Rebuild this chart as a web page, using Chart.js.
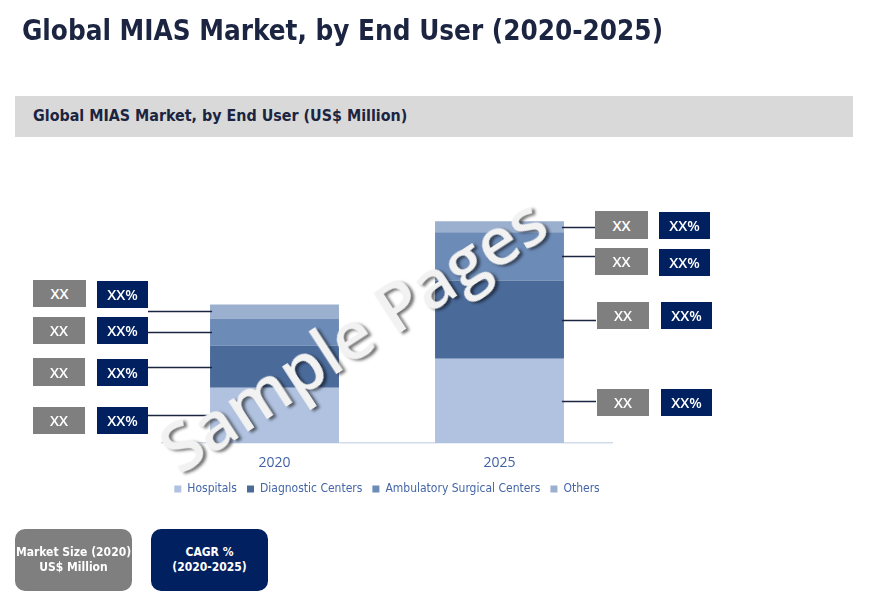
<!DOCTYPE html>
<html>
<head>
<meta charset="utf-8">
<script src="https://cdn.jsdelivr.net/npm/chart.js@4"></script>
<style>
  html, body { margin: 0; padding: 0; background: #ffffff; }
  #wrap { position: relative; width: 873px; height: 597px; overflow: hidden; background: #fff; }
  #chartCanvas { position: absolute; left: 0; top: 0; }
  .title { position: absolute; left: 22px; top: 15px; font-family: "DejaVu Sans Condensed", "DejaVu Sans", sans-serif; font-weight: bold; font-size: 27.6px; color: #1B2440; white-space: nowrap; line-height: 32px; }
  .band { position: absolute; left: 15px; top: 96px; width: 838px; height: 41px; background: #D9D9D9; }
  .band span { position: absolute; left: 18px; top: 10px; font-family: "DejaVu Sans Condensed", "DejaVu Sans", sans-serif; font-weight: bold; font-size: 15.9px; color: #1B2440; white-space: nowrap; line-height: 20px; }
  .bx { position: absolute; color: #fff; font-family: "Open Sans", "Liberation Sans", sans-serif; font-size: 14.5px; font-weight: 600; display: flex; align-items: center; justify-content: center; }
  .g { background: #7F7F7F; }
  .n { background: #002060; }
  .foot { position: absolute; top: 529px; width: 117px; height: 62px; border-radius: 10px; color: #fff; font-family: "DejaVu Sans Condensed", "DejaVu Sans", sans-serif; font-weight: bold; font-size: 12px; line-height: 15px; display: flex; align-items: center; justify-content: center; text-align: center; }
  .wm { position: absolute; left: 352px; top: 333px; transform: translate(-50%, -50%) rotate(-33deg); font-family: "Open Sans", sans-serif; font-weight: 600; font-size: 67px; color: #f2f2f2; text-shadow: 2px 3px 3px rgba(0,0,0,0.55); white-space: nowrap; z-index: 5; pointer-events: none; }
</style>
</head>
<body>
<div id="wrap">
  <canvas id="chartCanvas" width="873" height="597"></canvas>
  <div class="title">Global MIAS Market, by End User (2020-2025)</div>
  <div class="band"><span>Global MIAS Market, by End User (US$ Million)</span></div>

  <div class="bx g" style="left:33px;top:280px;width:53px;height:27px;">XX</div>
  <div class="bx n" style="left:97px;top:281px;width:51px;height:27px;">XX%</div>
  <div class="bx g" style="left:33px;top:317px;width:52px;height:27px;">XX</div>
  <div class="bx n" style="left:97px;top:317px;width:51px;height:27px;">XX%</div>
  <div class="bx g" style="left:33px;top:358px;width:52px;height:28px;">XX</div>
  <div class="bx n" style="left:97px;top:359px;width:51px;height:27px;">XX%</div>
  <div class="bx g" style="left:33px;top:407px;width:52px;height:27px;">XX</div>
  <div class="bx n" style="left:97px;top:407px;width:51px;height:27px;">XX%</div>

  <div class="bx g" style="left:595px;top:211px;width:53px;height:28px;">XX</div>
  <div class="bx n" style="left:659px;top:212px;width:51px;height:27px;">XX%</div>
  <div class="bx g" style="left:595px;top:248px;width:53px;height:27px;">XX</div>
  <div class="bx n" style="left:659px;top:249px;width:51px;height:27px;">XX%</div>
  <div class="bx g" style="left:597px;top:302px;width:52px;height:27px;">XX</div>
  <div class="bx n" style="left:661px;top:302px;width:51px;height:27px;">XX%</div>
  <div class="bx g" style="left:597px;top:389px;width:52px;height:27px;">XX</div>
  <div class="bx n" style="left:661px;top:389px;width:51px;height:27px;">XX%</div>

  <div class="foot" style="left:15px;background:#7F7F7F;">Market Size (2020)<br>US$ Million</div>
  <div class="foot" style="left:151px;background:#002060;">CAGR %<br>(2020-2025)</div>

  <div class="wm">Sample Pages</div>
</div>
<script>
// ---- Data ----
const years = ['2020', '2025'];
const seriesNames = ['Hospitals', 'Diagnostic Centers', 'Ambulatory Surgical Centers', 'Others'];
const hospitals = [55, 84];
const diagnosticCenters = [42, 78];
const ambulatorySurgicalCenters = [27, 48];
const others = [14, 11];
const yMax = 260;

const colors = ['#B0C2E0', '#4A6A9A', '#6C8BB7', '#9BAFCE'];
const seriesValues = [hospitals, diagnosticCenters, ambulatorySurgicalCenters, others];

// Leader lines: 2020 bar -> boxes on the left, 2025 bar -> boxes on the right
const leaderPlugin = {
  id: 'leaders',
  afterDatasetsDraw(chart) {
    const ctx = chart.ctx;
    ctx.save();
    ctx.strokeStyle = '#1B2440';
    ctx.lineWidth = 1.3;
    chart.data.datasets.forEach((ds, i) => {
      const meta = chart.getDatasetMeta(i);
      meta.data.forEach((bar, j) => {
        const props = bar.getProps(['x', 'y', 'base', 'width'], true);
        const yMid = Math.round((props.y + props.base) / 2) + 0.5;
        ctx.beginPath();
        if (j === 0) {
          ctx.moveTo(148, yMid);
          ctx.lineTo(props.x - props.width / 2 + 2, yMid);
        } else {
          ctx.moveTo(props.x + props.width / 2 - 2, yMid);
          ctx.lineTo(596, yMid);
        }
        ctx.stroke();
      });
    });
    ctx.restore();
  }
};

new Chart(document.getElementById('chartCanvas'), {
  type: 'bar',
  data: {
    labels: years,
    datasets: seriesNames.map((name, i) => ({
      label: name,
      data: seriesValues[i],
      backgroundColor: colors[i],
      borderWidth: 0,
      categoryPercentage: 1,
      barPercentage: 0.573
    }))
  },
  options: {
    responsive: false,
    animation: false,
    layout: { padding: { left: 162, right: 261, top: 182, bottom: 92 } },
    plugins: {
      legend: {
        position: 'bottom',
        labels: {
          boxWidth: 7,
          boxHeight: 7,
          padding: 10,
          color: '#4466A6',
          font: { family: '"DejaVu Sans Condensed", "DejaVu Sans", sans-serif', size: 12 }
        }
      },
      tooltip: { enabled: false }
    },
    scales: {
      x: {
        stacked: true,
        grid: { display: false, drawTicks: false },
        border: { display: true, color: '#D3DBEA', width: 1.5 },
        afterFit(scale) { scale.height = 30; },
        ticks: {
          padding: 10,
          color: '#4062A3',
          font: { family: '"Open Sans", sans-serif', size: 14, lineHeight: '21px' }
        }
      },
      y: {
        stacked: true,
        display: false,
        min: 0,
        max: yMax
      }
    }
  },
  plugins: [leaderPlugin]
});
</script>
</body>
</html>
